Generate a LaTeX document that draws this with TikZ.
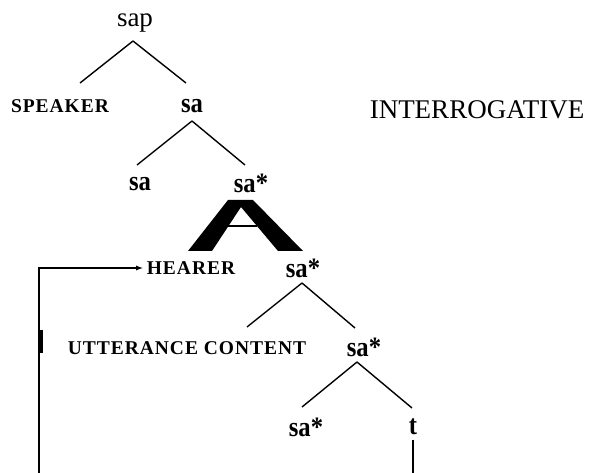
\documentclass[tikz,border=0pt]{standalone}
\usepackage{fontspec}
\setmainfont{Liberation Serif}
\newfontfamily\rolefont[LetterSpace=5]{Liberation Serif}
\newfontfamily\catfont[FakeStretch=0.88]{Liberation Serif}
\usetikzlibrary{calc}
\tikzset{
	big/.style={inner sep=0pt,font=\fontsize{27}{30}\selectfont},
	cat/.style={inner sep=0pt,font=\catfont\bfseries\fontsize{28}{30}\selectfont},
	role/.style={inner sep=0pt,font=\rolefont\bfseries\fontsize{19.5}{22}\selectfont},
	branch/.style={line width=1.4pt}
}
\begin{document}
\begin{tikzpicture}[x=1pt,y=-1pt]
	\useasboundingbox (0,0) rectangle (590,473);
	\node[big] (sap) at (135,23) {sap};
	\node[role] (speaker) at (60,106) {SPEAKER};
	\node[cat] (sa1) at (192,106) {sa};
	\node[big] (interr) at (477,110) {INTERROGATIVE};
	\node[cat] (sa2) at (140,184) {sa};
	\node[cat] (sa3) at (251,183) {sa*};
	\node[role] (hearer) at (191,268) {HEARER};
	\node[cat] (sa4) at (303,268) {sa*};
	\node[role] (utt) at (187,348) {UTTERANCE CONTENT};
	\node[cat] (sa5) at (364,347) {sa*};
	\node[cat] (sa6) at (306,427) {sa*};
	\node[cat] (t) at (413,427) {t};
	\coordinate (tend) at (413,473);
	\coordinate (loopend) at (39,473);
	\draw[branch] ($(sap)+(-2,18)$) -- ($(speaker)+(20,-23)$);
	\draw[branch] ($(sap)+(-2,18)$) -- ($(sa1)+(-6,-23)$);
	\draw[branch] ($(sa1)+(0,15)$) -- ($(sa2)+(-3,-19)$);
	\draw[branch] ($(sa1)+(0,15)$) -- ($(sa3)+(-6,-18)$);
	\draw[branch] ($(sa4)+(-1,15)$) -- ($(utt)+(60,-21)$);
	\draw[branch] ($(sa4)+(-1,15)$) -- ($(sa5)+(-9,-19)$);
	\draw[branch] ($(sa5)+(-7,15)$) -- ($(sa6)+(-4,-20)$);
	\draw[branch] ($(sa5)+(-7,15)$) -- ($(t)+(-1,-19)$);
	\draw[branch] ($(t)+(0,13)$) -- (tend);
	\fill (188,251) -- (228,200) -- (253,200) -- (303,251) -- (278,251) -- (241,207) -- (212,251) -- cycle;
	\draw[line width=1.5pt] (228,226) -- (257,226);
	\draw[-latex,line width=1.2pt] (loopend) |- ([xshift=-4]hearer.west);
	\draw[line width=3pt] (41,330) -- (41,353);
\end{tikzpicture}
\end{document}
